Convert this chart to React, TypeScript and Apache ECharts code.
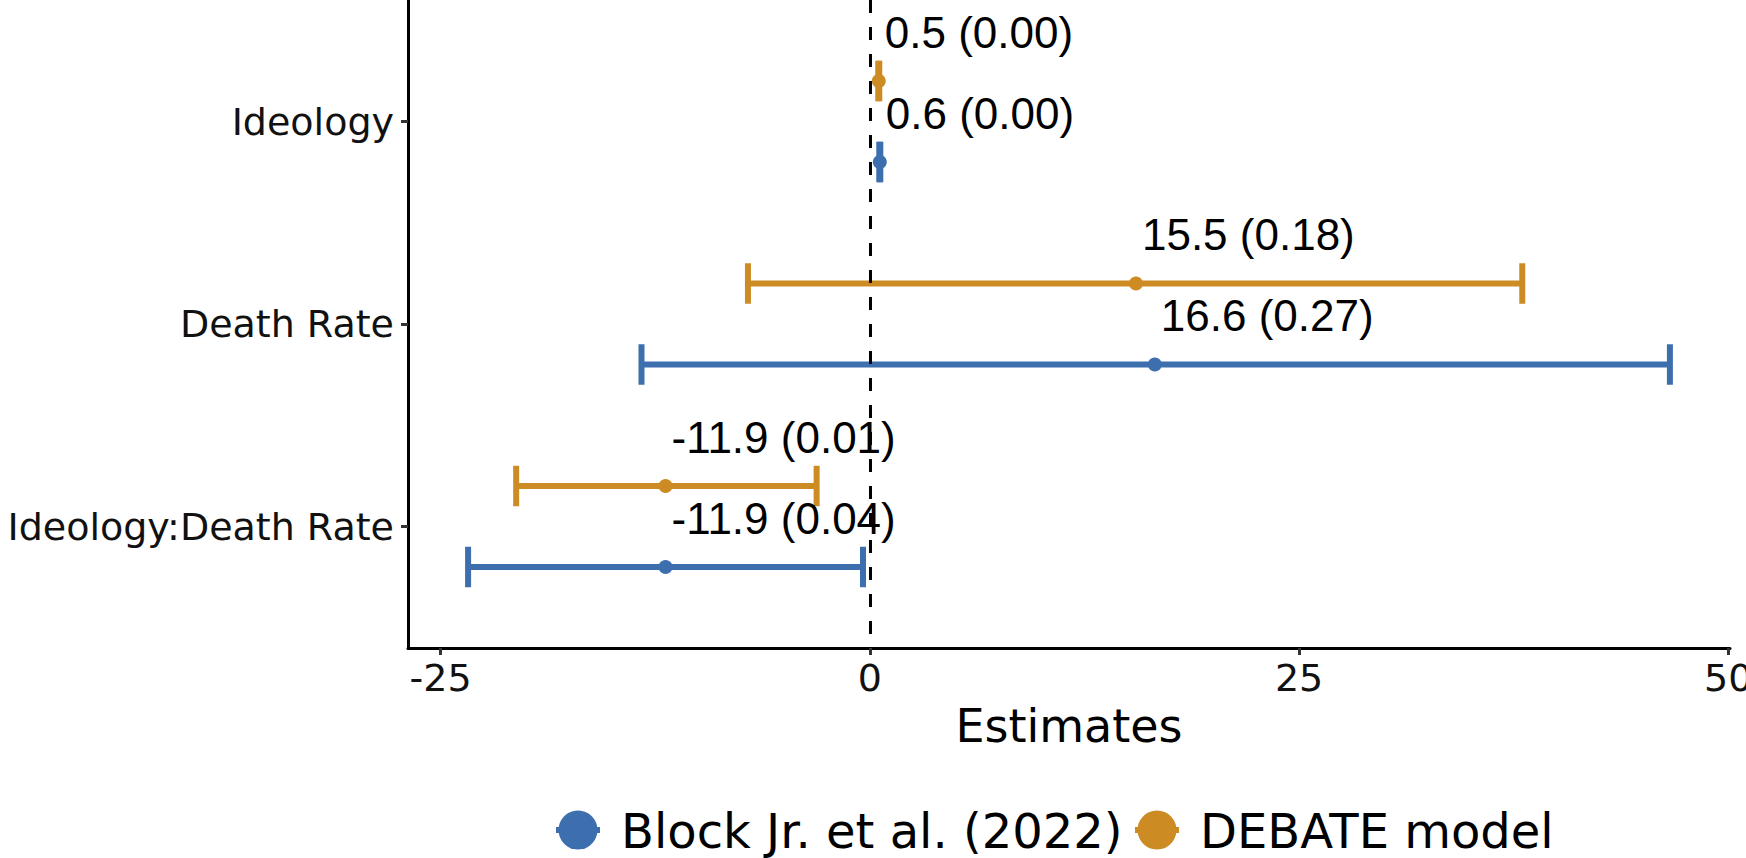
import React, { useEffect, useRef } from "react";
import * as echarts from "echarts";

const terms = ["Ideology", "Death Rate", "Ideology:Death Rate"];
const models = ["Block Jr. et al. (2022)", "DEBATE model"];
const blockEstimate = [0.58, 16.6, -11.9];
const blockLow = [0.55, -13.3, -23.4];
const blockHigh = [0.61, 46.6, -0.4];
const blockP = [0.0, 0.27, 0.04];
const debateEstimate = [0.52, 15.5, -11.9];
const debateLow = [0.49, -7.1, -20.6];
const debateHigh = [0.55, 38.0, -3.1];
const debateP = [0.0, 0.18, 0.01];
const xTicks = [-25, 0, 25, 50];
const termTicks = [1, 2, 3];

const BLUE = "#3D6FAF";
const ORANGE = "#CD8B24";
const AXIS_FONT = "DejaVu Sans";
const LABEL_FONT = "'Liberation Sans', Arial, sans-serif";

function barRenderer(color: string) {
  return (params: any, api: any) => {
    const lo = api.value(0);
    const hi = api.value(1);
    const y = api.value(2);
    const a = api.coord([lo, y]);
    const b = api.coord([hi, y]);
    const h = Math.abs(api.size([0, 0.1])[1]);
    const style = { stroke: color, lineWidth: 6, lineCap: "butt" };
    return {
      type: "group",
      children: [
        { type: "line", shape: { x1: a[0], y1: a[1], x2: b[0], y2: b[1] }, style },
        { type: "line", shape: { x1: a[0], y1: a[1] - h, x2: a[0], y2: a[1] + h }, style },
        { type: "line", shape: { x1: b[0], y1: b[1] - h, x2: b[0], y2: b[1] + h }, style },
      ],
    };
  };
}

function pointLabel(p: any) {
  return `${p.value[0].toFixed(1)} (${p.value[2].toFixed(2)})`;
}

export default function App() {
  const ref = useRef<HTMLDivElement>(null);
  useEffect(() => {
    document.body.style.margin = "0";
    if (!ref.current) return;
    const chart = echarts.init(ref.current, undefined, { renderer: "svg" });

    const debateY = termTicks.map((t) => t - 0.2);
    const blockY = termTicks.map((t) => t + 0.2);

    const labelCfg = {
      show: true,
      position: [13, -42],
      align: "left",
      verticalAlign: "middle",
      formatter: pointLabel,
      fontFamily: LABEL_FONT,
      fontSize: 44,
      color: "#000",
    };

    const option: any = {
      animation: false,
      backgroundColor: "#fff",
      grid: { left: 408, right: 16, top: 0, bottom: 210, containLabel: false, outerBoundsMode: "none" },
      xAxis: {
        type: "value",
        min: -26.9,
        max: 50.1,
        splitLine: { show: false },
        axisLine: { show: true, onZero: false, lineStyle: { color: "#000", width: 3 } },
        axisTick: { show: true, customValues: xTicks, length: 7, lineStyle: { color: "#333", width: 3 } },
        axisLabel: {
          customValues: xTicks,
          margin: 11,
          fontFamily: AXIS_FONT,
          fontSize: 38,
          color: "#111",
          hideOverlap: false,
        },
        name: "Estimates",
        nameLocation: "middle",
        nameGap: 55,
        nameTextStyle: { fontFamily: AXIS_FONT, fontSize: 46, color: "#000" },
      },
      yAxis: {
        type: "value",
        inverse: true,
        min: 0.4,
        max: 3.6,
        splitLine: { show: false },
        axisLine: { show: true, onZero: false, lineStyle: { color: "#000", width: 3 } },
        axisTick: { show: true, customValues: termTicks, length: 7, lineStyle: { color: "#333", width: 3 } },
        axisLabel: {
          customValues: termTicks,
          formatter: (v: number) => terms[Math.round(v) - 1] ?? "",
          margin: 14,
          fontFamily: AXIS_FONT,
          fontSize: 38,
          color: "#111",
        },
      },
      series: [
        {
          name: models[1],
          type: "custom",
          renderItem: barRenderer(ORANGE),
          encode: { x: [0, 1], y: 2 },
          data: debateLow.map((lo, i) => [lo, debateHigh[i], debateY[i]]),
          z: 2,
          markLine: {
            silent: true,
            symbol: "none",
            label: { show: false },
            lineStyle: { color: "#000", width: 3, type: [13, 14] },
            data: [{ xAxis: 0 }],
          },
        },
        {
          name: models[0],
          type: "custom",
          renderItem: barRenderer(BLUE),
          encode: { x: [0, 1], y: 2 },
          data: blockLow.map((lo, i) => [lo, blockHigh[i], blockY[i]]),
          z: 2,
        },
        {
          name: models[1],
          type: "scatter",
          symbol: "circle",
          symbolSize: 14,
          itemStyle: { color: ORANGE, opacity: 1 },
          data: debateEstimate.map((e, i) => [e, debateY[i], debateP[i]]),
          label: labelCfg,
          z: 3,
        },
        {
          name: models[0],
          type: "scatter",
          symbol: "circle",
          symbolSize: 14,
          itemStyle: { color: BLUE, opacity: 1 },
          data: blockEstimate.map((e, i) => [e, blockY[i], blockP[i]]),
          label: labelCfg,
          z: 3,
        },
      ],
      graphic: [
        { type: "rect", shape: { x: 556, y: 827, width: 44, height: 6 }, style: { fill: BLUE } },
        { type: "circle", shape: { cx: 578, cy: 830, r: 19.5 }, style: { fill: BLUE } },
        {
          type: "text",
          x: 621,
          y: 831,
          style: { text: models[0], font: `48px ${AXIS_FONT}`, fill: "#000", align: "left", verticalAlign: "middle" },
        },
        { type: "rect", shape: { x: 1135, y: 827, width: 44, height: 6 }, style: { fill: ORANGE } },
        { type: "circle", shape: { cx: 1157, cy: 830, r: 19.5 }, style: { fill: ORANGE } },
        {
          type: "text",
          x: 1200,
          y: 831,
          style: { text: models[1], font: `48px ${AXIS_FONT}`, fill: "#000", align: "left", verticalAlign: "middle" },
        },
      ],
    };
    chart.setOption(option);
    return () => chart.dispose();
  }, []);
  return <div ref={ref} style={{ width: 1746, height: 858 }} />;
}
